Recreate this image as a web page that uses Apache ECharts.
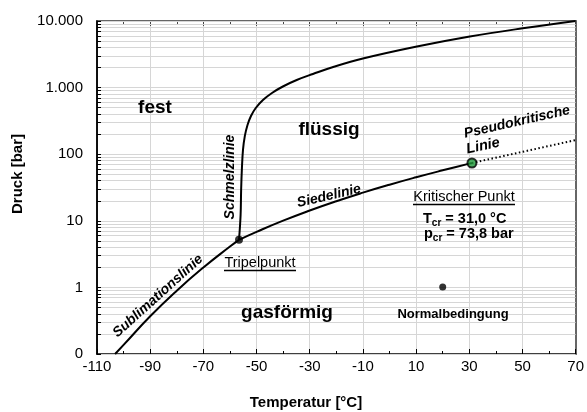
<!DOCTYPE html>
<html>
<head>
<meta charset="utf-8">
<script src="https://cdn.jsdelivr.net/npm/echarts@6/dist/echarts.min.js"></script>
<style>
  html, body { margin: 0; padding: 0; background: #fff; }
  #chart { width: 587px; height: 412px; }
</style>
</head>
<body>
<div id="chart"></div>
<script>
// CO2 phase diagram: temperature [°C] vs pressure [bar] (log scale)

const tempMin = -110, tempMax = 70, tempStep = 20;
const pressureDecades = [0.1, 1, 10, 100, 1000, 10000];

// Sublimation curve (solid <-> gas)
const sublimationT = [-103.2, -100, -90, -80, -70, -60, -56.6];
const sublimationP = [0.1, 0.137, 0.368, 0.893, 1.99, 4.11, 5.18];

// Melting curve (solid <-> liquid)
const meltingT = [-56.6, -56.0, -55.8, -55.5, -55.1, -54.4, -53.4, -52.1, -50.3, -47.6, -44.2, -40.1, -34.9, -28.8, -20.6, -10.0, 10.3, 30.2, 50.1, 70.0];
const meltingP = [5.18, 12.2, 29, 62, 116, 188, 274, 375, 494, 651, 830, 1039, 1300, 1600, 2074, 2735, 4140, 5850, 7770, 10000];

// Boiling curve (liquid <-> gas), triple point to critical point
const boilingT = [-56.6, -50, -40, -30, -20, -10, 0, 10, 20, 30, 31.0];
const boilingP = [5.18, 6.82, 10.05, 14.28, 19.70, 26.49, 34.85, 45.02, 57.29, 72.14, 73.8];

// Pseudo-critical line beyond the critical point
const pseudoT = [31.0, 70];
const pseudoP = [73.8, 163];

// Special points
const triplePoint = [-56.6, 5.18];
const criticalPoint = [31.0, 73.8];
const normalPoint = [20, 1.013];

const FONT = '"Liberation Sans", Arial, sans-serif';
const GRID_COLOR = '#d6d6d6';

function pairs(xs, ys) { return xs.map((x, i) => [x, ys[i]]); }

// log10 positions of every 1..9 step within each decade (for ticks and grid)
const logTickValues = [];
for (let d = -1; d <= 3; d++) {
  for (let k = 1; k <= 9; k++) logTickValues.push(Math.log10(k) + d);
}
logTickValues.push(4);

function pressureLabel(v) {
  if (v < 1) return '0';
  return String(Math.round(v)).replace(/\B(?=(\d{3})+(?!\d))/g, '.');
}

const chart = echarts.init(document.getElementById('chart'), null, { renderer: 'canvas' });

const lineBase = { type: 'line', xAxisIndex: 0, yAxisIndex: 1, showSymbol: false, symbol: 'none', z: 3, silent: true };

const txt = (x, y, text, size, opts = {}) => ({
  type: 'text', x, y, rotation: (opts.rot || 0) * Math.PI / 180, z: 100,
  style: {
    text, fill: '#000', font: `${opts.italic ? 'italic ' : ''}${opts.bold ? 'bold ' : ''}${size}px ${FONT}`,
    align: opts.align || 'center', verticalAlign: 'middle'
  }
});

const underline = (x1, x2, y) => ({
  type: 'line', z: 100, shape: { x1, y1: y, x2, y2: y }, style: { stroke: '#000', lineWidth: 1.3 }
});

const subText = (x, y, main, sub, rest) => ({
  type: 'text', x, y, z: 100,
  style: {
    text: `{a|${main}}{s|${sub}}{a|${rest}}`,
    align: 'left', verticalAlign: 'middle',
    rich: {
      a: { fontFamily: FONT, fontWeight: 'bold', fontSize: 14.5, lineHeight: 18, fill: '#000', verticalAlign: 'middle' },
      s: { fontFamily: FONT, fontWeight: 'bold', fontSize: 10, lineHeight: 10, fill: '#000', verticalAlign: 'bottom' }
    }
  }
});

const option = {
  animation: false,
  backgroundColor: '#fff',
  grid: { left: 97, right: 11, top: 21, bottom: 58, containLabel: false },
  xAxis: [
    {
      type: 'value', position: 'bottom', min: tempMin, max: tempMax, interval: tempStep,
      axisLine: { show: true, onZero: false, lineStyle: { color: '#000', width: 1.5 } },
      axisTick: { show: true, inside: true, length: 5, lineStyle: { color: '#000' } },
      minorTick: { show: true, splitNumber: 2, length: 3, lineStyle: { color: '#000' } },
      axisLabel: { show: true, margin: 5, color: '#000', fontFamily: FONT, fontSize: 15 },
      splitLine: { show: true, lineStyle: { color: GRID_COLOR, width: 1 } }
    },
    {
      type: 'value', position: 'top', min: tempMin, max: tempMax, interval: tempStep,
      axisLine: { show: true, onZero: false, lineStyle: { color: '#666', width: 2 } },
      axisTick: { show: true, inside: true, length: 5, lineStyle: { color: '#444' } },
      minorTick: { show: true, splitNumber: 2, length: 3, lineStyle: { color: '#444' } },
      axisLabel: { show: false },
      splitLine: { show: false }
    }
  ],
  yAxis: [
    {
      // minor log ticks and grid lines on the left
      type: 'value', position: 'left', min: -1, max: 4, z: 1,
      axisLine: { show: true, onZero: false, lineStyle: { color: '#000', width: 1.5 } },
      axisTick: { show: true, inside: true, length: 4, customValues: logTickValues, lineStyle: { color: '#000' } },
      axisLabel: { show: false },
      splitLine: { show: true, lineStyle: { color: GRID_COLOR, width: 1 } }
    },
    {
      type: 'log', logBase: 10, position: 'left', min: 0.1, max: 10000,
      axisLine: { show: true, onZero: false, lineStyle: { color: '#000', width: 1.5 } },
      axisTick: { show: false },
      axisLabel: { show: true, margin: 14, color: '#000', fontFamily: FONT, fontSize: 15, formatter: pressureLabel },
      splitLine: { show: false }
    },
    {
      // mirrored frame on the right
      type: 'value', position: 'right', min: -1, max: 4,
      axisLine: { show: true, onZero: false, lineStyle: { color: '#666', width: 2 } },
      axisTick: { show: true, inside: true, length: 4, customValues: logTickValues, lineStyle: { color: '#444' } },
      axisLabel: { show: false },
      splitLine: { show: false }
    }
  ],
  series: [
    Object.assign({}, lineBase, {
      name: 'Sublimationslinie', data: pairs(sublimationT, sublimationP), smooth: true,
      lineStyle: { color: '#000', width: 2 }
    }),
    Object.assign({}, lineBase, {
      name: 'Schmelzlinie', data: pairs(meltingT, meltingP), smooth: 0.4,
      lineStyle: { color: '#000', width: 2 }
    }),
    Object.assign({}, lineBase, {
      name: 'Siedelinie', data: pairs(boilingT, boilingP), smooth: true,
      lineStyle: { color: '#000', width: 2 }
    }),
    Object.assign({}, lineBase, {
      name: 'Pseudokritische Linie', data: pairs(pseudoT, pseudoP),
      lineStyle: { color: '#000', width: 2, type: [1.5, 2.5] }
    }),
    {
      type: 'scatter', name: 'Tripelpunkt', data: [triplePoint], yAxisIndex: 1, symbol: 'circle', symbolSize: 8, z: 5, silent: true,
      itemStyle: { color: '#000' }
    },
    {
      type: 'scatter', name: 'Kritischer Punkt', data: [criticalPoint], yAxisIndex: 1, symbol: 'circle', symbolSize: 9, z: 5, silent: true,
      itemStyle: { color: '#1f9a3a', borderColor: '#000', borderWidth: 2 }
    },
    {
      type: 'scatter', name: 'Normalbedingung', data: [normalPoint], yAxisIndex: 1, symbol: 'circle', symbolSize: 7, z: 5, silent: true,
      itemStyle: { color: '#000' }
    }
  ],
  graphic: [
    txt(18, 174, 'Druck [bar]', 15, { bold: true, rot: 90 }),
    txt(306, 403, 'Temperatur [°C]', 15, { bold: true }),
    txt(155, 108, 'fest', 19, { bold: true }),
    txt(329, 130, 'flüssig', 19, { bold: true }),
    txt(287, 313, 'gasförmig', 19, { bold: true }),
    txt(453, 314, 'Normalbedingung', 13, { bold: true }),
    txt(464, 197, 'Kritischer Punkt', 14.5),
    underline(413, 515, 204.5),
    subText(423, 219, 'T', 'cr', ' = 31,0 °C'),
    subText(424, 234, 'p', 'cr', ' = 73,8 bar'),
    txt(260, 263, 'Tripelpunkt', 14.5),
    underline(224, 296, 270.5),
    txt(158, 296, 'Sublimationslinie', 14, { bold: true, italic: true, rot: 42 }),
    txt(230, 177, 'Schmelzlinie', 14, { bold: true, italic: true, rot: 90 }),
    txt(329, 196, 'Siedelinie', 14, { bold: true, italic: true, rot: 13 }),
    txt(517, 122, 'Pseudokritische', 14, { bold: true, italic: true, rot: 12.8 }),
    txt(483, 146, 'Linie', 14.5, { bold: true, italic: true, rot: 12 })
  ]
};

chart.setOption(option);
</script>
</body>
</html>
